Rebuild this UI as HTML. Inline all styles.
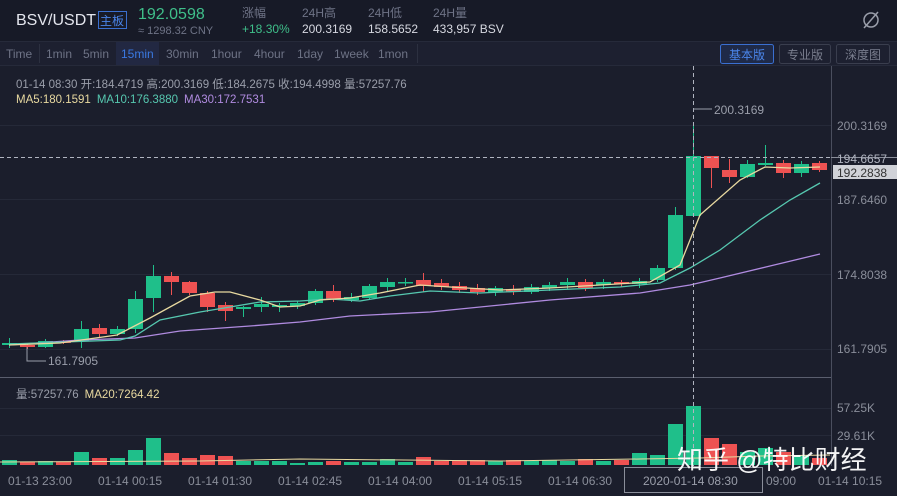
<!DOCTYPE html>
<html><head><meta charset="utf-8"><style>
body{margin:0;width:897px;height:496px;background:#1b1e2c;overflow:hidden;font-family:"Liberation Sans","Noto Sans CJK SC",sans-serif;}
svg{position:absolute;left:0;top:0}
</style></head><body>
<svg width="897" height="496" xmlns="http://www.w3.org/2000/svg" font-family="Liberation Sans, Noto Sans CJK SC, sans-serif">
<rect width="897" height="496" fill="#1b1e2c"/>
<rect width="897" height="41" fill="#171a27"/>
<rect y="41" width="897" height="25" fill="#1d2030"/>
<line x1="0" y1="41.5" x2="897" y2="41.5" stroke="#262a3a"/>
<line x1="0" y1="65.5" x2="897" y2="65.5" stroke="#262a3a"/>
<text x="16" y="25" fill="#e4e6ee" font-size="16">BSV/USDT</text>
<rect x="98.5" y="11.5" width="28" height="17" fill="none" stroke="#3a6fd0"/>
<text x="100" y="25" fill="#4a85ea" font-size="12">主板</text>
<text x="138" y="19" fill="#3fbf8a" font-size="16">192.0598</text>
<text x="138" y="34" fill="#6e7386" font-size="11">≈ 1298.32 CNY</text>
<text x="242" y="17" fill="#6e7386" font-size="12">涨幅</text>
<text x="242" y="33" fill="#3fbf8a" font-size="12">+18.30%</text>
<text x="302" y="17" fill="#6e7386" font-size="12">24H高</text>
<text x="302" y="33" fill="#d6d8e0" font-size="12">200.3169</text>
<text x="368" y="17" fill="#6e7386" font-size="12">24H低</text>
<text x="368" y="33" fill="#d6d8e0" font-size="12">158.5652</text>
<text x="433" y="17" fill="#6e7386" font-size="12">24H量</text>
<text x="433" y="33" fill="#d6d8e0" font-size="12">433,957 BSV</text>
<circle cx="871" cy="20" r="7" fill="none" stroke="#9a9eaa" stroke-width="1.5"/><line x1="864" y1="28" x2="878" y2="12" stroke="#9a9eaa" stroke-width="1.5"/>
<g font-size="12" fill="#6e7386">
<text x="6" y="58">Time</text><line x1="39.5" y1="44" x2="39.5" y2="63" stroke="#2c3040"/>
<text x="46" y="58">1min</text><text x="83" y="58">5min</text>
<rect x="116" y="42" width="43" height="23" fill="#222842"/><text x="121" y="58" fill="#3a78e0">15min</text>
<text x="166" y="58">30min</text><text x="211" y="58">1hour</text><text x="254" y="58">4hour</text><text x="297" y="58">1day</text><text x="334" y="58">1week</text><text x="378" y="58">1mon</text>
<line x1="417.5" y1="44" x2="417.5" y2="63" stroke="#2c3040"/>
</g>
<rect x="720.5" y="44.5" width="53" height="19" rx="2" fill="#1f2a48" stroke="#3a6fd0"/><text x="729" y="59" fill="#4a85ea" font-size="12">基本版</text>
<rect x="779.5" y="44.5" width="51" height="19" rx="2" fill="none" stroke="#3a3e4e"/><text x="787" y="59" fill="#7a7e8e" font-size="12">专业版</text>
<rect x="836.5" y="44.5" width="53" height="19" rx="2" fill="none" stroke="#3a3e4e"/><text x="845" y="59" fill="#7a7e8e" font-size="12">深度图</text>
<text x="16" y="88" fill="#9a9eaa" font-size="11.5">01-14 08:30  开:184.4719  高:200.3169  低:184.2675  收:194.4998  量:57257.76</text>
<text x="16" y="103" font-size="11.5"><tspan fill="#e8d9a0">MA5:180.1591</tspan><tspan fill="#56c8b0" dx="6">MA10:176.3880</tspan><tspan fill="#b08be0" dx="6">MA30:172.7531</tspan></text>
<g stroke="#252938" stroke-width="1">
<line x1="0" y1="125.5" x2="831" y2="125.5"/><line x1="0" y1="199.5" x2="831" y2="199.5"/><line x1="0" y1="274.5" x2="831" y2="274.5"/><line x1="0" y1="349.5" x2="831" y2="349.5"/>
<line x1="0" y1="408.5" x2="831" y2="408.5"/><line x1="0" y1="435.5" x2="831" y2="435.5"/>
</g>
<line x1="831.5" y1="66" x2="831.5" y2="466" stroke="#4a4e5e"/>
<line x1="0" y1="377.5" x2="831" y2="377.5" stroke="#5a5e6e"/>
<g fill="#8a8e9a" font-size="12">
<text x="837" y="130">200.3169</text><text x="837" y="204">187.6460</text><text x="837" y="279">174.8038</text><text x="837" y="353">161.7905</text>
<text x="837" y="412">57.25K</text><text x="837" y="440">29.61K</text>
</g>
<line x1="831" y1="157.5" x2="897" y2="157.5" stroke="#8a8e9a"/>
<text x="837" y="163" fill="#b0b4c0" font-size="12">194.6657</text>
<rect x="833" y="165" width="64" height="14" fill="#d0d2d8"/><text x="837" y="177" fill="#333" font-size="12">192.2838</text>
<g id="candles"></g>
<polyline fill="none" stroke="#b08be0" stroke-width="1.3" points="9,345 80,340 135,338 180,331 250,326 300,322 350,316 430,312 550,300 640,293 690,285 720,278 770,266 820,254"/>
<polyline fill="none" stroke="#56c8b0" stroke-width="1.3" points="9,344 120,340 135,336 160,320 200,312 230,307 260,302 300,301 330,299 360,301 390,296 430,291 480,293 550,290 620,287 660,283 690,268 720,250 760,220 790,200 820,183"/>
<polyline fill="none" stroke="#e8d9a0" stroke-width="1.3" points="9,345 60,343 117,335 150,318 190,296 215,292 230,292 260,300 280,307 300,306 320,300 350,298 380,293 420,285 450,287 500,290 550,288 600,285 650,282 680,265 700,215 740,180 765,167 790,168 820,167"/>
<polyline fill="none" stroke="#e8d9a0" stroke-width="1" points="0,462 200,461 300,459 500,461 640,459 700,458 760,456 830,455"/>
<line x1="0" y1="157.5" x2="831" y2="157.5" stroke="#b0b4c0" stroke-dasharray="4,3"/>
<line x1="693.5" y1="66" x2="693.5" y2="466" stroke="#b0b4c0" stroke-dasharray="4,3"/>
<polyline fill="none" stroke="#9a9eaa" points="693,109 712,109"/><text x="714" y="114" fill="#9a9eaa" font-size="12">200.3169</text>
<polyline fill="none" stroke="#9a9eaa" points="27,347 27,361 46,361"/><text x="48" y="365" fill="#9a9eaa" font-size="12">161.7905</text>
<text x="16" y="398" font-size="11.5"><tspan fill="#9a9eaa">量:57257.76</tspan><tspan fill="#e8d9a0" dx="6">MA20:7264.42</tspan></text>
<g fill="#8a8e9a" font-size="12">
<text x="8" y="485">01-13 23:00</text><text x="98" y="485">01-14 00:15</text><text x="188" y="485">01-14 01:30</text><text x="278" y="485">01-14 02:45</text><text x="368" y="485">01-14 04:00</text><text x="458" y="485">01-14 05:15</text><text x="548" y="485">01-14 06:30</text><text x="766" y="485">09:00</text><text x="818" y="485">01-14 10:15</text>
</g>
<rect x="624.5" y="467.5" width="138" height="25" fill="#1b1e2c" stroke="#8a8e9a"/>
<text x="643" y="485" fill="#9a9eaa" font-size="12">2020-01-14 08:30</text>
<text x="677" y="469" fill="#ffffff" font-size="26" opacity="0.95">知乎 @特比财经</text>
</svg>
<script>
var G="#1fbf8a",R="#ee5252";
var c=[[345,343,338,348,G],[345,347,343,349,R],[347,341,339,348,G],[341,343,340,344,R],[341,329,321,348,G],[328,334,324,338,R],[334,329,326,336,G],[329,299,291,333,G],[298,276,265,312,G],[276,282,272,295,R],[282,293,281,295,R],[293,307,291,312,R],[305,311,302,321,R],[309,307,306,317,G],[307,304,297,312,G],[307,305,303,312,G],[306,303,301,309,G],[303,291,289,305,G],[291,299,285,302,R],[300,297,293,302,G],[298,286,284,300,G],[287,282,278,292,G],[283,282,278,286,G],[280,286,273,292,R],[283,287,279,290,R],[286,290,282,293,R],[288,292,284,295,R],[292,288,286,296,G],[289,292,285,295,R],[292,287,284,294,G],[288,285,282,291,G],[285,282,278,289,G],[282,288,279,291,R],[285,282,279,289,G],[282,284,280,287,R],[284,281,278,288,G],[280,268,265,282,G],[268,215,207,270,G],[216,156,125,216,G],[156,168,156,188,R],[170,177,159,183,R],[177,164,160,178,G],[165,163,145,166,G],[163,173,160,178,R],[173,164,161,177,G],[163,170,161,172,R]];
var v=[460,462,461,462,452,458,458,450,438,453,458,455,456,461,461,461,463,462,461,462,462,459,462,457,461,460,460,461,460,461,460,461,459,461,460,453,455,424,406,438,444,452,448,452,455,458];
var s="";
for(var i=0;i<c.length;i++){var x=9+18*i,d=c[i],t=Math.min(d[0],d[1]),b=Math.max(d[0],d[1]);
s+='<line x1="'+(x+.5)+'" y1="'+d[2]+'" x2="'+(x+.5)+'" y2="'+d[3]+'" stroke="'+d[4]+'"/>';
s+='<rect x="'+(x-7)+'" y="'+t+'" width="15" height="'+Math.max(1.5,b-t)+'" fill="'+d[4]+'"/>';
s+='<rect x="'+(x-7)+'" y="'+v[i]+'" width="15" height="'+(465-v[i])+'" fill="'+d[4]+'"/>';}
document.getElementById("candles").innerHTML=s;
</script>
</body></html>
